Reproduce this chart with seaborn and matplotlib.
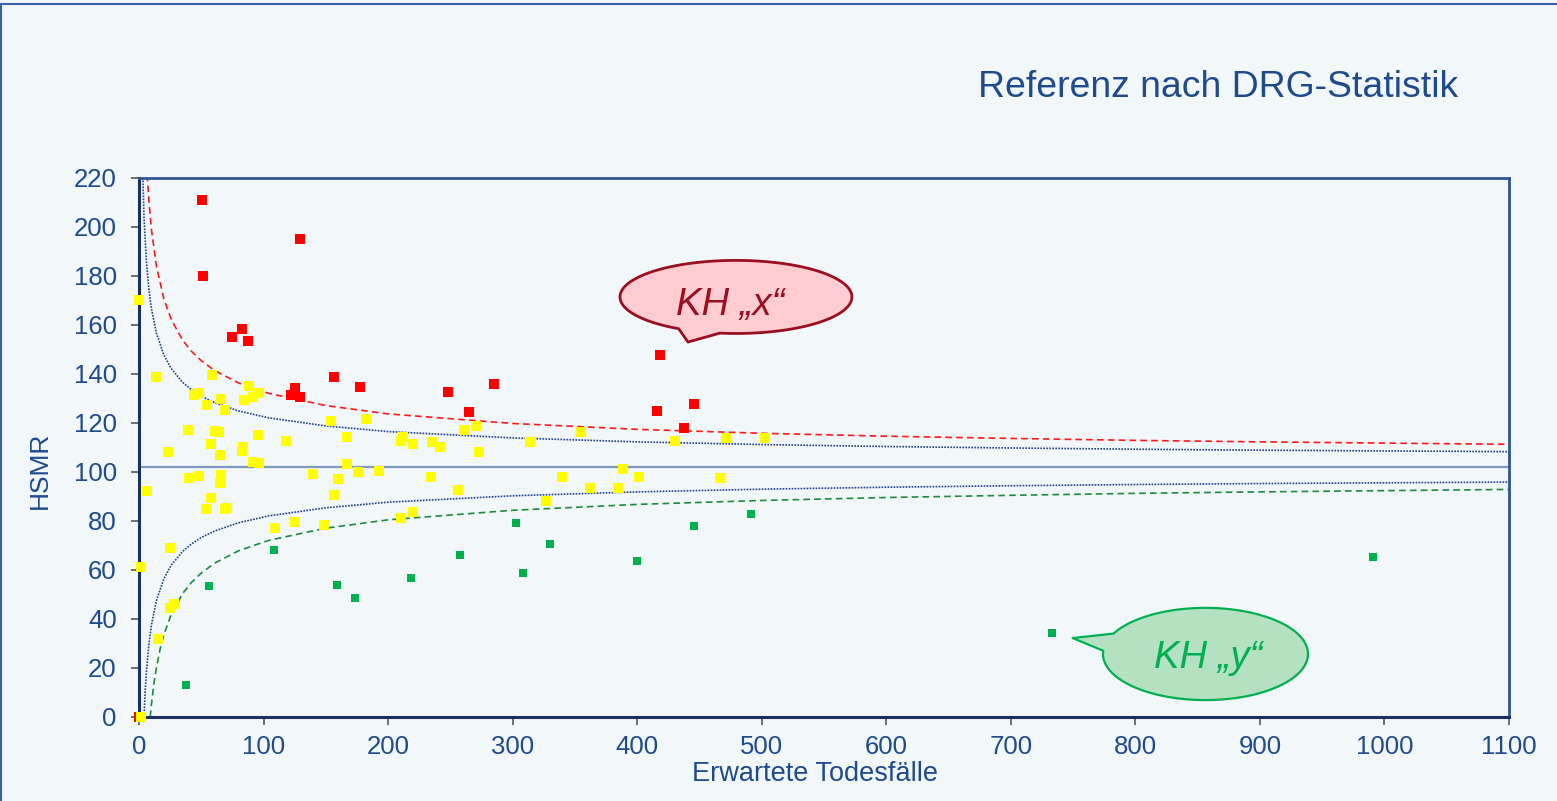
import numpy as np
import pandas as pd
import matplotlib
matplotlib.use("Agg")
import matplotlib.pyplot as plt
from matplotlib.patches import Polygon, Rectangle
import seaborn as sns

# Hospitals above the outer upper limit: expected deaths and HSMR
red_expected = [0, 50.6, 51, 129.3, 75, 83, 87.5, 156.6, 125.3, 121.8, 129.3,
                177.4, 248, 285, 265, 418, 416, 446, 437.6]
red_hsmr = [0, 211, 180, 195, 155, 158.2, 153.3, 138.8, 134, 131.3, 130.4,
            134.6, 132.5, 135.8, 124.4, 147.6, 124.8, 127.6, 117.9]

# Hospitals inside the funnel
yellow_expected = [0.0, 13.6, 58.6, 44, 48, 88, 91.5, 96.3, 66, 84, 54.4, 69,
                   154, 182, 39, 61, 64, 95.5, 58, 118, 167, 210, 212, 220,
                   235, 241.7, 23, 83.5, 82.7, 65, 91.5, 96.3, 40, 48, 66, 65,
                   139.5, 160, 167, 176, 193, 234.5, 6.4, 58, 156.6, 53.8, 69,
                   70.5, 109, 125, 148.5, 210, 220, 25, 1.6, 25, 28, 15.3, 1.6,
                   261, 270.6, 273, 314, 355, 388.6, 430, 471, 502.6, 256, 340,
                   362, 384.6, 401.5, 466.5, 326.8]
yellow_hsmr = [170, 138.8, 139.6, 131.4, 132, 135, 130.6, 132.2, 129.8, 129.4,
               127.3, 125.3, 120.8, 121.6, 117, 116.7, 116.3, 115, 111.4, 112.6,
               114.3, 112.6, 114.3, 111.4, 112.2, 110.2, 108, 110, 108.6, 107,
               104, 103.4, 97.6, 98.4, 98.8, 95.5, 99.2, 97, 103.3, 100, 100.4,
               98, 92.2, 89.4, 90.6, 84.9, 84.9, 85.2, 77.1, 79.6, 78.4, 81.2,
               83.7, 69, 61.2, 44.5, 46, 31.8, 0, 117.1, 118.8, 108.2, 112.2,
               116.3, 101.2, 112.6, 113.9, 113.9, 92.7, 98, 93.5, 93.5, 98,
               97.6, 88.2]

# Hospitals below the outer lower limit
green_expected = [108, 56, 37.7, 159, 173.4, 218, 257.7, 302.7, 308.3, 330,
                  399.8, 445.6, 491.4, 733, 990.8]
green_hsmr = [68.2, 53.5, 13.1, 53.9, 48.6, 56.8, 66.1, 79.2, 58.8, 70.6,
              63.7, 78, 82.9, 34.3, 65.3]

# Reference HSMR and funnel control limits
reference_hsmr = 102

upper_outer_expected = [5, 7, 8, 10, 14, 20, 26, 35, 42, 50, 61, 80, 104, 150,
                        200, 300, 400, 500, 600, 700, 800, 900, 1000, 1100]
upper_outer_hsmr = [238.8, 217.7, 210.2, 198.8, 183.8, 170.4, 162.0, 153.7,
                    149.2, 145.3, 141.2, 136.2, 132.0, 127.0, 123.6, 119.7,
                    117.3, 115.7, 114.5, 113.6, 112.8, 112.2, 111.7, 111.2]

upper_inner_expected = [2.5, 4, 6, 8, 10, 14, 20, 26, 35, 42, 50, 61, 80, 104,
                        150, 200, 300, 400, 500, 600, 700, 800, 900, 1000, 1100]
upper_inner_hsmr = [231.0, 204.0, 185.3, 174.1, 166.5, 156.5, 147.6, 142.0,
                    136.5, 133.5, 130.8, 128.1, 124.8, 122.0, 118.7, 116.4,
                    113.8, 112.2, 111.1, 110.3, 109.7, 109.2, 108.8, 108.5,
                    108.2]

lower_inner_expected = [4, 5, 6, 8, 10, 14, 20, 26, 35, 42, 50, 61, 80, 104,
                        150, 200, 300, 400, 500, 600, 700, 800, 900, 1000, 1100]
lower_inner_hsmr = [0, 10.8, 18.7, 29.9, 37.5, 47.5, 56.4, 62.0, 67.5, 70.5,
                    73.2, 75.9, 79.2, 82.0, 85.3, 87.6, 90.2, 91.8, 92.9, 93.7,
                    94.3, 94.8, 95.2, 95.5, 95.8]

lower_outer_expected = [9, 10, 12, 14, 17, 20, 26, 35, 42, 50, 61, 80, 104,
                        150, 200, 300, 400, 500, 600, 700, 800, 900, 1000, 1100]
lower_outer_hsmr = [0, 5.2, 13.7, 20.2, 27.8, 33.6, 42.0, 50.3, 54.8, 58.7,
                    62.8, 67.8, 72.0, 77.0, 80.4, 84.3, 86.7, 88.3, 89.5, 90.4,
                    91.2, 91.8, 92.3, 92.8]

x_ticks = list(range(0, 1101, 100))
y_ticks = list(range(0, 221, 20))

title_text = "Referenz nach DRG-Statistik"
x_label = "Erwartete Todesfälle"
y_label = "HSMR"
callout_x_text = "KH \u201ex\u201c"
callout_y_text = "KH \u201ey\u201c"

# ---------------------------------------------------------------- styling
sns.set_theme(style="white")
plt.rcParams["font.family"] = ["Liberation Sans", "DejaVu Sans"]

BG = "#F2F7FA"
TEXT = "#1F4A8C"
NAVY = "#1A3160"

fig = plt.figure(figsize=(15.57, 8.01), dpi=100, facecolor=BG)
ax = fig.add_axes([139 / 1557, 1 - 717 / 801, 1370 / 1557, 539.5 / 801])
ax.set_facecolor(BG)

# slide frame along the top and left edge
fig.patches.append(Rectangle((0.0006, -0.2), 1.5, 1.2 - 3.5 / 801,
                             transform=fig.transFigure, fill=False,
                             edgecolor="#3A62A8", lw=1.5, zorder=0))

# reference line and funnel limits
ax.axhline(reference_hsmr, color="#7F98BF", lw=1.6, zorder=1)
line_kw = dict(sort=False, estimator=None, zorder=2)
sns.lineplot(x=upper_inner_expected, y=upper_inner_hsmr, ax=ax,
             color="#23408C", lw=1.2, linestyle=(0, (1, 0.8)), **line_kw)
sns.lineplot(x=lower_inner_expected, y=lower_inner_hsmr, ax=ax,
             color="#23408C", lw=1.2, linestyle=(0, (1, 0.8)), **line_kw)
sns.lineplot(x=upper_outer_expected, y=upper_outer_hsmr, ax=ax,
             color="#FF1A1A", lw=1.2, linestyle=(0, (4, 2.5)), **line_kw)
sns.lineplot(x=lower_outer_expected, y=lower_outer_hsmr, ax=ax,
             color="#1E8A3E", lw=1.2, linestyle=(0, (4, 2.5)), **line_kw)

# hospitals
sns.scatterplot(x=red_expected, y=red_hsmr, ax=ax, color="#FF0000",
                marker="s", s=62, linewidth=0, zorder=3, clip_on=False)
sns.scatterplot(x=yellow_expected, y=yellow_hsmr, ax=ax, color="#FFFF00",
                marker="s", s=42, linewidth=0, zorder=4, clip_on=False)
sns.scatterplot(x=green_expected, y=green_hsmr, ax=ax, color="#00B050",
                marker="s", s=40, linewidth=0, zorder=4, clip_on=False)

ax.set_xlim(0, 1100)
ax.set_ylim(0, 220)
ax.set_xticks(x_ticks)
ax.set_yticks(y_ticks)
ax.tick_params(axis="both", which="major", direction="out", length=6,
               width=1.2, color="#555555", labelsize=18.5, labelcolor=TEXT)
ax.tick_params(axis="x", pad=7, bottom=True)
ax.tick_params(axis="y", pad=10, left=True)

for side in ["left", "bottom"]:
    ax.spines[side].set_color(NAVY)
    ax.spines[side].set_linewidth(2.2)
for side in ["top", "right"]:
    ax.spines[side].set_color("#2F5597")
    ax.spines[side].set_linewidth(2.0)

ax.set_xlabel(x_label, fontsize=19.5, color=TEXT)
ax.set_ylabel(y_label, fontsize=19, color=TEXT)
ax.xaxis.set_label_coords((815 - 139) / 1370, (717 - 774) / 539.5)
ax.xaxis.label.set_va("center")
ax.yaxis.set_label_coords((40 - 139) / 1370, (717 - 470) / 539.5)
ax.yaxis.label.set_va("center")

fig.text(1458 / 1557, 1 - 97 / 801, title_text, ha="right", va="baseline",
         fontsize=26.9, color=TEXT)


# speech-bubble callouts
def callout(cx, cy, a, b, t1, t2, tip, face, edge, lw, text, tcolor, txy):
    th = np.radians(np.linspace(t2, t1 + 360, 300))
    xs = np.r_[cx + a * np.cos(th), tip[0]]
    ys = np.r_[cy + b * np.sin(th), tip[1]]
    ax.add_patch(Polygon(np.column_stack([xs, ys]), closed=True,
                         facecolor=face, edgecolor=edge, lw=lw, zorder=6,
                         clip_on=False, joinstyle="round"))
    ax.text(txy[0], txy[1], text, ha="center", va="center", fontsize=27.5,
            fontstyle="italic", color=tcolor, zorder=7)


callout(479.3, 171.3, 93.1, 14.9, -119.6, -98, (440.8, 152.9),
        "#FFCCD2", "#990F1F", 2.0, callout_x_text, "#9B1020", (474.5, 168.0))
callout(856.3, 25.7, 82.3, 18.8, 153.8, 176, (749.6, 32.2),
        "#B3E1C2", "#00B050", 1.6, callout_y_text, "#00B050", (858.3, 24.0))

fig.savefig("out.png", dpi=100, facecolor=BG)
